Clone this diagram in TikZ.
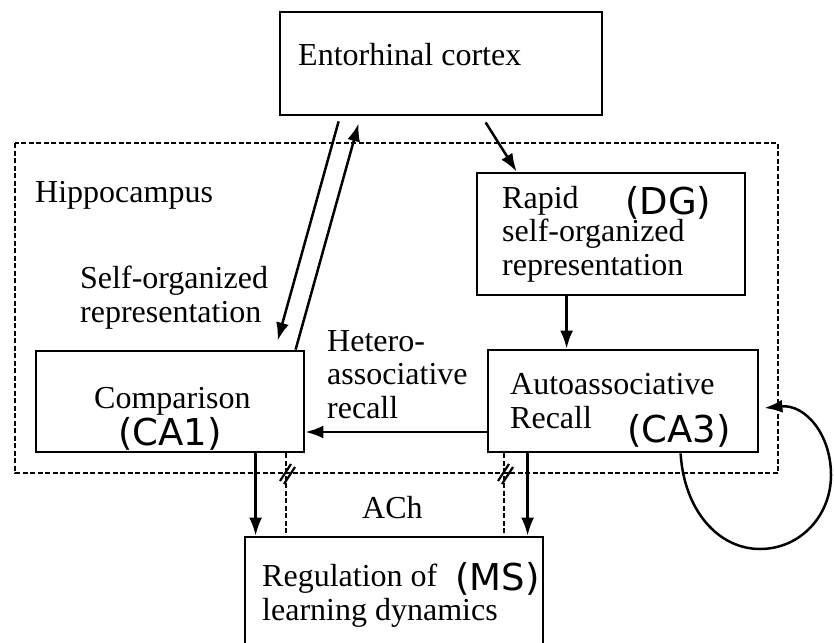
\documentclass[tikz,border=0pt]{standalone}
\usepackage{fontspec}
\setmainfont{Liberation Serif}
\newfontfamily\regfont{DejaVu Sans}
\usetikzlibrary{arrows.meta}

\begin{document}
\begin{tikzpicture}[x=1pt,y=-1pt,
  box/.style={draw,line width=2.8pt,inner sep=0pt},
  txt/.style={anchor=base west,inner sep=0pt,align=left,font=\fontsize{32}{33.5}\selectfont},
  reg/.style={anchor=base west,inner sep=0pt,font=\regfont\fontsize{37}{40}\selectfont},
  link/.style={line width=2.5pt,-{Latex[length=18pt,width=13pt]}},
  ach/.style={line width=2.2pt,dash pattern=on 5pt off 2.5pt}]
\useasboundingbox (0,0) rectangle (834,642);

% hippocampus region
\draw[ach] (15,143) rectangle (778,473);
\node[txt] (hiplabel) at (35,202) {Hippocampus};

% areas
\node[box,minimum width=322pt,minimum height=103pt] (ec) at (441,63.5) {};
\node[box,minimum width=268pt,minimum height=122pt] (dg) at (611,234) {};
\node[box,minimum width=268pt,minimum height=101pt] (ca1) at (170,401.5) {};
\node[box,minimum width=270pt,minimum height=102pt] (ca3) at (623,401) {};
\node[box,minimum width=298pt,minimum height=125pt] (ms) at (394,599.5) {};

\node[txt] (ectext) at (298,65) {Entorhinal cortex};
\node[txt] (dgtext) at (502,275) {Rapid\\self-organized\\representation};
\node[reg] (dgreg) at (625,214) {(DG)};
\node[txt] (ca1text) at (94,408) {Comparison};
\node[reg] (ca1reg) at (118,445) {(CA1)};
\node[txt] (ca3text) at (510,428) {Autoassociative\\Recall};
\node[reg] (ca3reg) at (627,442) {(CA3)};
\node[txt] (mstext) at (262,620) {Regulation of\\learning dynamics};
\node[reg] (msreg) at (455,590) {(MS)};

% pathway labels
\node[txt] (soplabel) at (80,322) {Self-organized\\representation};
\node[txt] (hetlabel) at (327,418) {Hetero-\\associative\\recall};
\node[txt] (achlabel) at (362,518) {ACh};

% pathways
\draw[link] ([xshift=60pt,yshift=-5pt]ec.south west) -- ([xshift=243pt,yshift=9pt]ca1.north west);
\draw[link] ([xshift=261pt]ca1.north west) -- ([xshift=80pt,yshift=-7pt]ec.south west);
\draw[link] ([xshift=207pt,yshift=-6pt]ec.south west) -- ([xshift=41pt]dg.north west);
\draw[link] ([xshift=91pt]dg.south west) -- ([xshift=80pt]ca3.north west);
\draw[link] ([yshift=-31pt]ca3.west) -- ([yshift=-30.5pt]ca1.east);
\draw[link] ([xshift=221pt]ca1.south west) -- ([xshift=12pt]ms.north west);
\draw[link] ([xshift=41pt]ca3.south west) -- ([xshift=284pt]ms.north west);
\draw[link] ([xshift=194pt]ca3.south west) .. controls (684,510) and (718,549) .. (760,549)
  .. controls (800,549) and (831,516) .. (831,475)
  .. controls (831,434) and (805,404) .. ([xshift=5pt,yshift=-7pt]ca3.east);

% cholinergic input
\draw[ach] ([xshift=251pt]ca1.south west) -- ([xshift=42pt]ms.north west);
\draw[ach] ([xshift=17pt]ca3.south west) -- ([xshift=260pt]ms.north west);
\foreach \hx in {287,505}{
  \draw[line width=2.2pt] (\hx-7,481) -- (\hx+4,464);
  \draw[line width=2.2pt] (\hx-3,484) -- (\hx+8,467);
}
\end{tikzpicture}
\end{document}
